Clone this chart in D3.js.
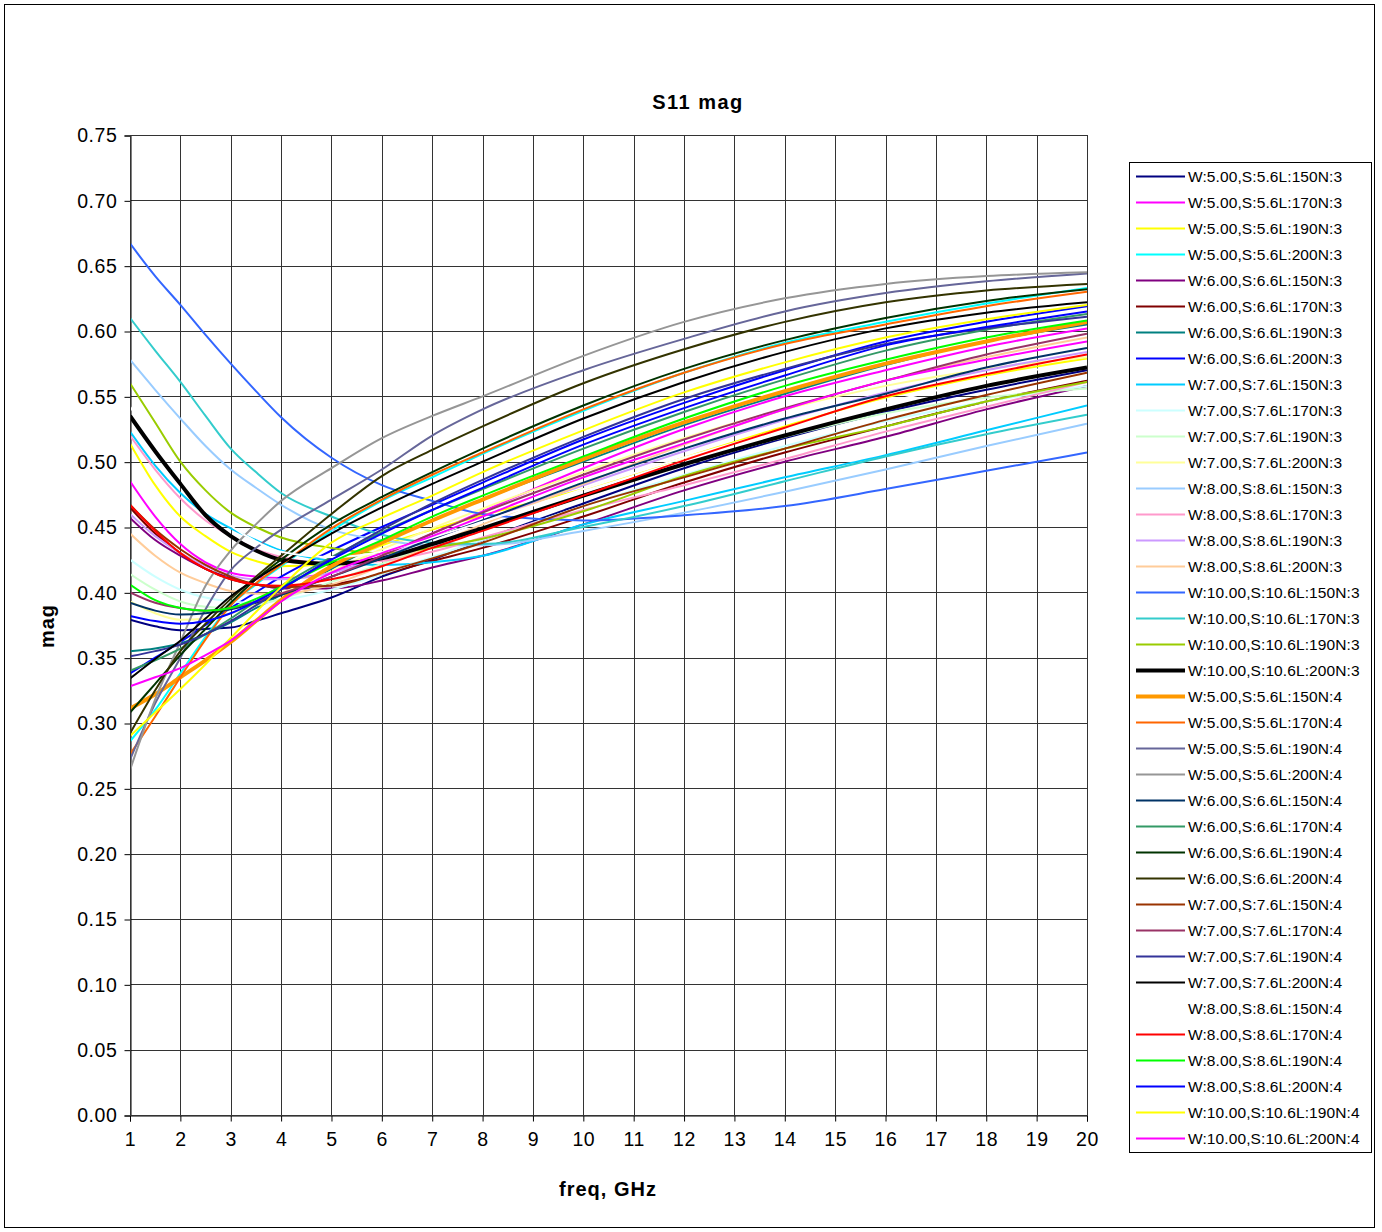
<!DOCTYPE html>
<html>
<head>
<meta charset="utf-8">
<script src="https://cdn.jsdelivr.net/npm/d3@7"></script>
<style>
  body { margin: 0; background: #fff; }
  svg { font-family: "Liberation Sans", Arial, sans-serif; }
</style>
</head>
<body>
<svg id="chart"></svg>
<script>
var width = 1382,
    height = 1232;

// frequency points, GHz
var freqs = [1, 1.5, 2, 2.5, 3, 3.5, 4, 5, 6, 7, 8, 10, 12, 14, 16, 18, 20];

var names = [
  "W:5.00,S:5.6L:150N:3", "W:5.00,S:5.6L:170N:3", "W:5.00,S:5.6L:190N:3", "W:5.00,S:5.6L:200N:3",
  "W:6.00,S:6.6L:150N:3", "W:6.00,S:6.6L:170N:3", "W:6.00,S:6.6L:190N:3", "W:6.00,S:6.6L:200N:3",
  "W:7.00,S:7.6L:150N:3", "W:7.00,S:7.6L:170N:3", "W:7.00,S:7.6L:190N:3", "W:7.00,S:7.6L:200N:3",
  "W:8.00,S:8.6L:150N:3", "W:8.00,S:8.6L:170N:3", "W:8.00,S:8.6L:190N:3", "W:8.00,S:8.6L:200N:3",
  "W:10.00,S:10.6L:150N:3", "W:10.00,S:10.6L:170N:3", "W:10.00,S:10.6L:190N:3", "W:10.00,S:10.6L:200N:3",
  "W:5.00,S:5.6L:150N:4", "W:5.00,S:5.6L:170N:4", "W:5.00,S:5.6L:190N:4", "W:5.00,S:5.6L:200N:4",
  "W:6.00,S:6.6L:150N:4", "W:6.00,S:6.6L:170N:4", "W:6.00,S:6.6L:190N:4", "W:6.00,S:6.6L:200N:4",
  "W:7.00,S:7.6L:150N:4", "W:7.00,S:7.6L:170N:4", "W:7.00,S:7.6L:190N:4", "W:7.00,S:7.6L:200N:4",
  "W:8.00,S:8.6L:150N:4", "W:8.00,S:8.6L:170N:4", "W:8.00,S:8.6L:190N:4", "W:8.00,S:8.6L:200N:4",
  "W:10.00,S:10.6L:190N:4", "W:10.00,S:10.6L:200N:4"
];

// S11 magnitude, one row per series
var mags = [
  [0.379, 0.374, 0.371, 0.372, 0.373, 0.378, 0.384, 0.396, 0.412, 0.425, 0.440, 0.468, 0.495, 0.518, 0.538, 0.555, 0.570],
  [0.485, 0.458, 0.437, 0.423, 0.415, 0.412, 0.411, 0.415, 0.428, 0.445, 0.462, 0.495, 0.525, 0.550, 0.570, 0.588, 0.602],
  [0.514, 0.482, 0.458, 0.443, 0.431, 0.424, 0.420, 0.422, 0.436, 0.448, 0.459, 0.479, 0.503, 0.527, 0.549, 0.566, 0.579],
  [0.286, 0.310, 0.338, 0.366, 0.390, 0.406, 0.420, 0.447, 0.470, 0.488, 0.506, 0.539, 0.568, 0.591, 0.607, 0.621, 0.633],
  [0.457, 0.440, 0.428, 0.418, 0.411, 0.406, 0.403, 0.403, 0.409, 0.419, 0.428, 0.452, 0.478, 0.500, 0.519, 0.540, 0.558],
  [0.465, 0.445, 0.430, 0.418, 0.410, 0.406, 0.404, 0.406, 0.414, 0.424, 0.434, 0.458, 0.484, 0.507, 0.527, 0.546, 0.562],
  [0.355, 0.357, 0.361, 0.368, 0.377, 0.388, 0.398, 0.418, 0.438, 0.455, 0.471, 0.500, 0.528, 0.552, 0.574, 0.592, 0.605],
  [0.338, 0.350, 0.362, 0.375, 0.388, 0.400, 0.412, 0.432, 0.450, 0.467, 0.484, 0.517, 0.545, 0.570, 0.592, 0.607, 0.619],
  [0.523, 0.497, 0.476, 0.460, 0.449, 0.440, 0.432, 0.424, 0.421, 0.423, 0.428, 0.452, 0.470, 0.488, 0.505, 0.524, 0.543],
  [0.425, 0.412, 0.402, 0.396, 0.393, 0.392, 0.394, 0.402, 0.414, 0.427, 0.440, 0.466, 0.490, 0.512, 0.531, 0.546, 0.558],
  [0.414, 0.402, 0.393, 0.389, 0.388, 0.390, 0.395, 0.408, 0.422, 0.436, 0.449, 0.474, 0.498, 0.519, 0.537, 0.549, 0.556],
  [0.393, 0.384, 0.379, 0.380, 0.384, 0.391, 0.399, 0.416, 0.433, 0.449, 0.464, 0.492, 0.518, 0.540, 0.558, 0.571, 0.580],
  [0.578, 0.555, 0.533, 0.512, 0.494, 0.480, 0.467, 0.448, 0.440, 0.436, 0.436, 0.447, 0.461, 0.477, 0.494, 0.512, 0.529],
  [0.520, 0.494, 0.472, 0.455, 0.443, 0.433, 0.427, 0.422, 0.424, 0.431, 0.442, 0.463, 0.482, 0.502, 0.523, 0.542, 0.561],
  [0.460, 0.443, 0.430, 0.420, 0.413, 0.410, 0.410, 0.415, 0.427, 0.441, 0.455, 0.482, 0.508, 0.532, 0.553, 0.570, 0.584],
  [0.445, 0.428, 0.415, 0.407, 0.401, 0.399, 0.399, 0.406, 0.420, 0.436, 0.452, 0.483, 0.513, 0.540, 0.562, 0.580, 0.595],
  [0.667, 0.642, 0.620, 0.597, 0.575, 0.554, 0.534, 0.503, 0.482, 0.470, 0.460, 0.455, 0.459, 0.466, 0.479, 0.493, 0.507],
  [0.610, 0.585, 0.561, 0.535, 0.510, 0.492, 0.476, 0.458, 0.444, 0.438, 0.437, 0.450, 0.466, 0.485, 0.504, 0.521, 0.536],
  [0.560, 0.530, 0.500, 0.478, 0.461, 0.450, 0.442, 0.434, 0.430, 0.434, 0.441, 0.462, 0.489, 0.510, 0.527, 0.546, 0.561],
  [0.535, 0.508, 0.483, 0.459, 0.443, 0.432, 0.425, 0.422, 0.426, 0.437, 0.449, 0.474, 0.498, 0.520, 0.540, 0.558, 0.572],
  [0.311, 0.322, 0.335, 0.348, 0.362, 0.378, 0.394, 0.420, 0.438, 0.455, 0.471, 0.502, 0.530, 0.554, 0.575, 0.592, 0.607],
  [0.276, 0.305, 0.335, 0.364, 0.390, 0.407, 0.421, 0.449, 0.471, 0.490, 0.507, 0.540, 0.568, 0.590, 0.605, 0.619, 0.630],
  [0.272, 0.315, 0.350, 0.387, 0.417, 0.434, 0.448, 0.471, 0.494, 0.520, 0.540, 0.570, 0.594, 0.615, 0.629, 0.638, 0.644],
  [0.264, 0.318, 0.362, 0.405, 0.432, 0.452, 0.470, 0.495, 0.518, 0.535, 0.550, 0.581, 0.607, 0.625, 0.636, 0.642, 0.645],
  [0.392, 0.386, 0.383, 0.384, 0.387, 0.392, 0.398, 0.412, 0.426, 0.441, 0.455, 0.484, 0.510, 0.533, 0.552, 0.572, 0.587],
  [0.340, 0.348, 0.357, 0.368, 0.380, 0.393, 0.405, 0.427, 0.446, 0.463, 0.479, 0.510, 0.538, 0.563, 0.585, 0.601, 0.613],
  [0.308, 0.330, 0.352, 0.372, 0.392, 0.410, 0.425, 0.452, 0.473, 0.492, 0.510, 0.543, 0.571, 0.593, 0.610, 0.623, 0.632],
  [0.292, 0.325, 0.355, 0.376, 0.395, 0.412, 0.428, 0.460, 0.489, 0.509, 0.527, 0.560, 0.586, 0.607, 0.622, 0.631, 0.636],
  [0.467, 0.448, 0.433, 0.421, 0.412, 0.406, 0.404, 0.405, 0.415, 0.426, 0.438, 0.466, 0.488, 0.510, 0.532, 0.551, 0.568],
  [0.400, 0.392, 0.388, 0.386, 0.388, 0.393, 0.399, 0.412, 0.428, 0.445, 0.461, 0.490, 0.517, 0.541, 0.562, 0.582, 0.598],
  [0.351, 0.355, 0.360, 0.368, 0.378, 0.390, 0.402, 0.426, 0.448, 0.468, 0.486, 0.519, 0.548, 0.571, 0.590, 0.602, 0.611],
  [0.334, 0.349, 0.363, 0.380, 0.397, 0.410, 0.422, 0.445, 0.465, 0.483, 0.500, 0.533, 0.561, 0.584, 0.602, 0.614, 0.622],
  [0.542, 0.516, 0.492, 0.468, 0.451, 0.439, 0.431, 0.427, 0.431, 0.442, 0.454, 0.479, 0.503, 0.525, 0.545, 0.563, 0.577],
  [0.467, 0.447, 0.430, 0.418, 0.410, 0.406, 0.405, 0.410, 0.420, 0.434, 0.447, 0.474, 0.501, 0.526, 0.550, 0.567, 0.582],
  [0.406, 0.394, 0.388, 0.386, 0.388, 0.395, 0.404, 0.423, 0.440, 0.458, 0.474, 0.504, 0.533, 0.558, 0.578, 0.595, 0.608],
  [0.382, 0.378, 0.376, 0.378, 0.384, 0.393, 0.403, 0.425, 0.445, 0.463, 0.480, 0.513, 0.541, 0.566, 0.589, 0.603, 0.615],
  [0.290, 0.308, 0.326, 0.345, 0.365, 0.385, 0.404, 0.438, 0.457, 0.474, 0.492, 0.524, 0.553, 0.576, 0.595, 0.609, 0.620],
  [0.328, 0.335, 0.342, 0.352, 0.363, 0.378, 0.393, 0.415, 0.430, 0.443, 0.458, 0.488, 0.514, 0.540, 0.562, 0.578, 0.592]
];

var colors = [
  "#000080", "#ff00ff", "#ffff00", "#00ffff",
  "#800080", "#800000", "#008080", "#0000ff",
  "#00ccff", "#ccffff", "#ccffcc", "#ffff99",
  "#99ccff", "#ff99cc", "#cc99ff", "#ffcc99",
  "#3366ff", "#33cccc", "#99cc00", "#000000",
  "#ff9900", "#ff6600", "#666699", "#969696",
  "#003366", "#339966", "#003300", "#333300",
  "#993300", "#993366", "#333399", "#000000",
  "#ffffff", "#ff0000", "#00ff00", "#0000ff",
  "#ffff00", "#ff00ff"
];
var thick = ["W:10.00,S:10.6L:200N:3", "W:5.00,S:5.6L:150N:4"];

var yTicks = d3.range(0, 0.751, 0.05);
var xTicks = d3.range(1, 21);

var svg = d3.select("#chart")
    .attr("width", width)
    .attr("height", height);

// outer chart border
svg.append("rect")
    .attr("x", 4.5).attr("y", 4.5)
    .attr("width", 1370).attr("height", 1223)
    .attr("fill", "#fff")
    .attr("stroke", "#000").attr("stroke-width", 1);

var plot = { left: 130, top: 135, right: 1087, bottom: 1115 };

var x = d3.scaleLinear().domain([1, 20]).range([plot.left, plot.right]);
var y = d3.scaleLinear().domain([0, 0.75]).range([plot.bottom, plot.top]);

// gridlines
var grid = svg.append("g");
grid.selectAll("line.h")
    .data(yTicks)
    .enter().append("line")
    .attr("x1", plot.left).attr("x2", plot.right)
    .attr("y1", function(d) { return Math.round(y(d)) + 0.5; })
    .attr("y2", function(d) { return Math.round(y(d)) + 0.5; })
    .attr("stroke", "#333").attr("stroke-width", 1);
grid.selectAll("line.v")
    .data(xTicks)
    .enter().append("line")
    .attr("y1", plot.top).attr("y2", plot.bottom)
    .attr("x1", function(d) { return Math.round(x(d)) + 0.5; })
    .attr("x2", function(d) { return Math.round(x(d)) + 0.5; })
    .attr("stroke", "#333").attr("stroke-width", 1);

// axes
var yAxis = d3.axisLeft(y).tickValues(yTicks).tickSize(6).tickPadding(7)
    .tickFormat(d3.format(".2f"));
var xAxis = d3.axisBottom(x).tickValues(xTicks).tickSize(6).tickPadding(8);

var gy = svg.append("g")
    .attr("transform", "translate(" + (plot.left + 0.5) + ",0.5)")
    .call(yAxis);
var gx = svg.append("g")
    .attr("transform", "translate(0," + (plot.bottom + 0.5) + ")")
    .call(xAxis);
[gy, gx].forEach(function(g) {
  g.selectAll("path.domain").attr("stroke", "#000");
  g.selectAll(".tick line").attr("stroke", "#000");
  g.selectAll("text")
    .attr("fill", "#000")
    .style("font-size", "19.5px")
    .style("letter-spacing", "0.6px")
    .style("font-family", "Liberation Sans, Arial, sans-serif");
});
gx.selectAll("text").attr("dy", "0.85em");

// series lines
var line = d3.line()
    .x(function(d, i) { return x(freqs[i]); })
    .y(function(d) { return y(d); })
    .curve(d3.curveMonotoneX);

svg.append("clipPath").attr("id", "plotclip")
  .append("rect")
    .attr("x", plot.left).attr("y", plot.top)
    .attr("width", plot.right - plot.left).attr("height", plot.bottom - plot.top);

svg.append("g")
    .attr("clip-path", "url(#plotclip)")
  .selectAll("path")
    .data(mags)
    .enter().append("path")
    .attr("d", line)
    .attr("fill", "none")
    .attr("stroke", function(d, i) { return colors[i]; })
    .attr("stroke-width", function(d, i) { return thick.indexOf(names[i]) >= 0 ? 4 : 2; })
    .attr("stroke-linejoin", "round");

// plot frame
svg.append("rect")
    .attr("x", plot.left + 0.5).attr("y", plot.top + 0.5)
    .attr("width", plot.right - plot.left).attr("height", plot.bottom - plot.top)
    .attr("fill", "none").attr("stroke", "#333");

// titles
svg.append("text")
    .attr("x", 698).attr("y", 109)
    .attr("text-anchor", "middle")
    .style("font-size", "20px").style("font-weight", "bold")
    .style("letter-spacing", "1.5px")
    .text("S11 mag");

svg.append("text")
    .attr("x", 608).attr("y", 1196)
    .attr("text-anchor", "middle")
    .style("font-size", "20px").style("font-weight", "bold")
    .style("letter-spacing", "1px")
    .text("freq, GHz");

svg.append("text")
    .attr("transform", "translate(54,626) rotate(-90)")
    .attr("text-anchor", "middle")
    .style("font-size", "20px").style("font-weight", "bold")
    .style("letter-spacing", "1px")
    .text("mag");

// legend
var legend = svg.append("g");
legend.append("rect")
    .attr("x", 1129.5).attr("y", 162.5)
    .attr("width", 242).attr("height", 990)
    .attr("fill", "#fff").attr("stroke", "#000");

var item = legend.selectAll("g.item")
    .data(names)
    .enter().append("g")
    .attr("transform", function(d, i) { return "translate(0," + (176 + i * 26) + ")"; });
item.append("line")
    .attr("x1", 1136).attr("x2", 1185)
    .attr("y1", 0.5).attr("y2", 0.5)
    .attr("stroke", function(d, i) { return colors[i]; })
    .attr("stroke-width", function(d) { return thick.indexOf(d) >= 0 ? 4 : 2; });
item.append("text")
    .attr("x", 1188).attr("y", 6)
    .style("font-size", "15.5px")
    .style("letter-spacing", "0.1px")
    .text(function(d) { return d; });
</script>
</body>
</html>
